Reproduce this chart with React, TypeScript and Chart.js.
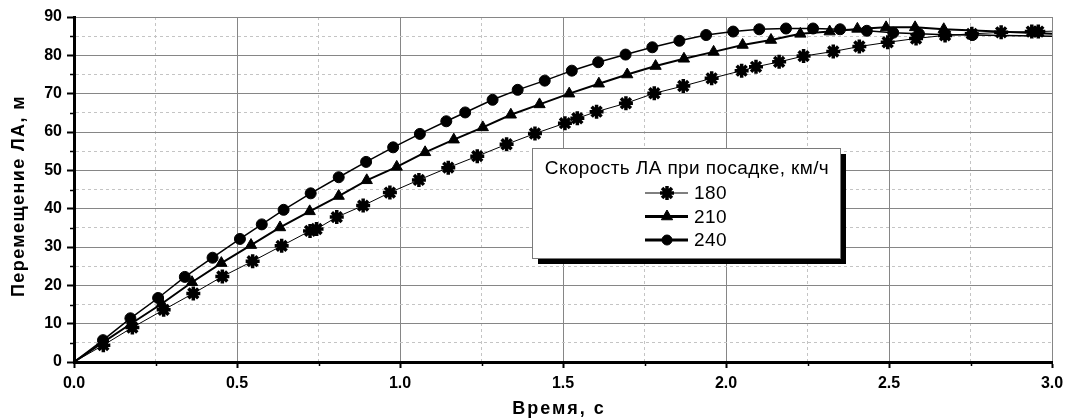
import React, { useEffect, useRef } from 'react';
import { Chart, registerables } from 'chart.js';
import { drawPoint } from 'chart.js/helpers';

Chart.register(...registerables);

const FONT = '"Liberation Sans", Arial, Helvetica, sans-serif';

const legendTitle = 'Скорость ЛА при посадке, км/ч';
const xTitle = 'Время, с';
const yTitle = 'Перемещение ЛА, м';
const seriesLabels = ['180', '210', '240'];

// Time (s) and displacement (m) for landing speed 180 km/h
const t180 = [0, 0.090, 0.179, 0.275, 0.366, 0.455, 0.548, 0.637, 0.724, 0.744, 0.806, 0.887, 0.969, 1.058, 1.148, 1.237, 1.327, 1.414, 1.506, 1.544, 1.603, 1.693, 1.780, 1.869, 1.956, 2.048, 2.092, 2.163, 2.238, 2.329, 2.409, 2.496, 2.583, 2.672, 2.754, 2.844, 2.938, 2.958, 3.0];
const d180 = [0, 4.4, 9.0, 13.6, 17.9, 22.3, 26.3, 30.3, 34.2, 34.7, 37.8, 40.8, 44.2, 47.5, 50.7, 53.7, 56.8, 59.6, 62.3, 63.6, 65.3, 67.5, 70.1, 72.0, 74.0, 76.0, 77.0, 78.3, 79.8, 81.0, 82.3, 83.4, 84.4, 85.2, 85.6, 86.0, 86.2, 86.2, 86.3];

// 210 km/h
const t210 = [0, 0.089, 0.177, 0.269, 0.362, 0.452, 0.543, 0.632, 0.723, 0.812, 0.898, 0.990, 1.077, 1.165, 1.254, 1.340, 1.428, 1.519, 1.610, 1.697, 1.784, 1.871, 1.962, 2.051, 2.138, 2.228, 2.318, 2.403, 2.491, 2.580, 2.668, 3.0];
const d210 = [0, 5.1, 10.1, 15.2, 20.8, 25.8, 30.5, 35.1, 39.3, 43.3, 47.4, 50.9, 54.7, 58.0, 61.2, 64.5, 67.2, 70.0, 72.6, 75.0, 77.2, 79.1, 80.9, 82.7, 84.0, 85.6, 86.2, 86.9, 87.3, 87.3, 86.8, 85.6];

// 240 km/h
const t240 = [0, 0.089, 0.173, 0.258, 0.340, 0.425, 0.509, 0.576, 0.643, 0.726, 0.812, 0.896, 0.979, 1.061, 1.142, 1.200, 1.284, 1.361, 1.444, 1.527, 1.608, 1.692, 1.774, 1.857, 1.939, 2.022, 2.102, 2.184, 2.267, 2.350, 2.432, 2.513, 2.592, 2.672, 2.756, 3.0];
const d240 = [0, 5.7, 11.4, 16.7, 22.2, 27.2, 32.1, 35.9, 39.7, 44.0, 48.2, 52.2, 56.0, 59.5, 62.8, 65.1, 68.4, 71.0, 73.4, 76.0, 78.2, 80.2, 82.1, 83.8, 85.3, 86.2, 86.8, 87.0, 87.0, 86.8, 86.4, 85.9, 85.6, 85.4, 85.3, 85.0];

const xMin = 0, xMax = 3, xStep = 0.25;
const yMin = 0, yMax = 90, yStep = 5;

const toPoints = (t: number[], d: number[]) => t.map((x, i) => ({ x, y: d[i] }));

const isMajorX = (v: number) => Math.abs(v * 2 - Math.round(v * 2)) < 1e-6;
const isMajorY = (v: number) => Math.abs(v / 10 - Math.round(v / 10)) < 1e-6;

const markerRadius = (n: number, r: number) => (c: any) =>
  c.dataIndex === 0 || c.dataIndex === n - 1 ? 0 : r;

const minorTicksPlugin = {
  id: 'minorTicks',
  afterDraw(chart: any) {
    const { ctx, chartArea } = chart;
    const xs = chart.scales.x;
    const ys = chart.scales.y;
    ctx.save();
    ctx.strokeStyle = '#000';
    ctx.lineWidth = 1.5;
    ctx.beginPath();
    for (let v = xMin; v <= xMax + 1e-9; v += xStep) {
      if (isMajorX(v)) continue;
      const px = Math.round(xs.getPixelForValue(v)) + 0.5;
      ctx.moveTo(px, chartArea.bottom);
      ctx.lineTo(px, chartArea.bottom + 4);
    }
    for (let v = yMin; v <= yMax + 1e-9; v += yStep) {
      if (isMajorY(v)) continue;
      const py = Math.round(ys.getPixelForValue(v)) + 0.5;
      ctx.moveTo(chartArea.left, py);
      ctx.lineTo(chartArea.left - 4, py);
    }
    ctx.stroke();
    ctx.restore();
  },
};

const axisTitlesPlugin = {
  id: 'axisTitles',
  afterDraw(chart: any) {
    const { ctx, chartArea } = chart;
    ctx.save();
    ctx.fillStyle = '#000';
    ctx.font = `bold 18px ${FONT}`;
    ctx.textAlign = 'center';
    ctx.textBaseline = 'middle';
    (ctx as any).letterSpacing = '2px';
    ctx.fillText(xTitle, (chartArea.left + chartArea.right) / 2 - 4, 409);
    (ctx as any).letterSpacing = '1.4px';
    ctx.translate(19, 196);
    ctx.rotate(-Math.PI / 2);
    ctx.fillText(yTitle, 0, 0);
    ctx.restore();
  },
};

const boxLegendPlugin = {
  id: 'boxLegend',
  afterDatasetsDraw(chart: any) {
    const { ctx } = chart;
    const bx = 532, by = 148, bw = 308, bh = 110;
    ctx.save();
    ctx.fillStyle = '#000';
    ctx.fillRect(bx + 6, by + 6, bw, bh);
    ctx.fillStyle = '#fff';
    ctx.fillRect(bx, by, bw, bh);
    ctx.strokeStyle = '#7a7a7a';
    ctx.lineWidth = 1;
    ctx.strokeRect(bx + 0.5, by + 0.5, bw, bh);
    ctx.fillStyle = '#000';
    ctx.font = `19px ${FONT}`;
    (ctx as any).letterSpacing = '0.4px';
    ctx.textAlign = 'center';
    ctx.textBaseline = 'middle';
    ctx.fillText(legendTitle, bx + bw / 2 + 1, by + 21);
    chart.data.datasets.forEach((ds: any, i: number) => {
      const y = by + 45 + i * 23.5;
      ctx.strokeStyle = '#000';
      ctx.lineWidth = i === 0 ? 1 : 3;
      ctx.beginPath();
      ctx.moveTo(645, y);
      ctx.lineTo(688, y);
      ctx.stroke();
      ctx.fillStyle = '#000';
      ctx.lineWidth = ds.legendBorder;
      drawPoint(ctx, { pointStyle: ds.pointStyle, radius: ds.legendRadius, borderWidth: ds.legendBorder, rotation: 0 }, 667, y);
      ctx.fillStyle = '#000';
      ctx.font = `19px ${FONT}`;
      ctx.textAlign = 'left';
      ctx.textBaseline = 'middle';
      ctx.fillText(ds.label, 694, y + 1);
    });
    ctx.restore();
  },
};

const tickFont = { family: FONT, size: 16, weight: 'bold' as const };

export default function App() {
  const ref = useRef<HTMLCanvasElement | null>(null);

  useEffect(() => {
    if (!ref.current) return;
    const chart = new Chart(ref.current, {
      type: 'line',
      data: {
        datasets: [
          {
            label: seriesLabels[0],
            data: toPoints(t180, d180),
            borderColor: '#000',
            backgroundColor: '#000',
            borderWidth: 1,
            pointStyle: 'star',
            pointRadius: markerRadius(t180.length, 7),
            pointBorderWidth: 3.5,
            pointBorderColor: '#000',
            pointBackgroundColor: '#000',
            tension: 0,
            legendRadius: 7,
            legendBorder: 3.5,
          } as any,
          {
            label: seriesLabels[1],
            data: toPoints(t210, d210),
            borderColor: '#000',
            backgroundColor: '#000',
            borderWidth: 2,
            pointStyle: 'triangle',
            pointRadius: markerRadius(t210.length, 6.5),
            pointBorderWidth: 1,
            pointBorderColor: '#000',
            pointBackgroundColor: '#000',
            tension: 0,
            legendRadius: 6.5,
            legendBorder: 1,
          } as any,
          {
            label: seriesLabels[2],
            data: toPoints(t240, d240),
            borderColor: '#000',
            backgroundColor: '#000',
            borderWidth: 1.5,
            pointStyle: 'circle',
            pointRadius: markerRadius(t240.length, 5.5),
            pointBorderWidth: 1,
            pointBorderColor: '#000',
            pointBackgroundColor: '#000',
            tension: 0,
            legendRadius: 5,
            legendBorder: 1,
          } as any,
        ],
      },
      options: {
        animation: false,
        responsive: false,
        devicePixelRatio: 1,
        layout: { padding: { left: 0, top: 17, right: 13, bottom: 0 } },
        plugins: {
          legend: { display: false },
          tooltip: { enabled: false },
        },
        scales: {
          x: {
            type: 'linear',
            min: xMin,
            max: xMax,
            ticks: {
              stepSize: xStep,
              autoSkip: false,
              maxRotation: 0,
              color: '#000',
              font: tickFont,
              padding: 6,
              callback: (v: any) => (isMajorX(Number(v)) ? Number(v).toFixed(1) : ''),
            },
            grid: {
              color: (c: any) => (c.tick && isMajorX(c.tick.value) ? '#868686' : '#c4c4c4'),
              lineWidth: 1,
              tickLength: 6,
              tickWidth: 2,
              tickColor: (c: any) => (c.tick && isMajorX(c.tick.value) ? '#000' : 'rgba(0,0,0,0)'),
            },
            border: {
              display: true,
              color: '#000',
              width: 3,
              dash: (c: any) => (c.tick && !isMajorX(c.tick.value) ? [3, 3] : []),
            },
            title: { display: false },
            afterFit: (s: any) => {
              s.height = 58;
              s.paddingLeft = 0;
              s.paddingRight = 0;
            },
          },
          y: {
            type: 'linear',
            min: yMin,
            max: yMax,
            ticks: {
              stepSize: yStep,
              autoSkip: false,
              color: '#000',
              font: tickFont,
              padding: 5,
              callback: (v: any) => (isMajorY(Number(v)) ? String(v) : ''),
            },
            grid: {
              color: (c: any) => (c.tick && isMajorY(c.tick.value) ? '#868686' : '#c4c4c4'),
              lineWidth: 1,
              tickLength: 7,
              tickWidth: 2,
              tickColor: (c: any) => (c.tick && isMajorY(c.tick.value) ? '#000' : 'rgba(0,0,0,0)'),
            },
            border: {
              display: true,
              color: '#000',
              width: 3,
              dash: (c: any) => (c.tick && !isMajorY(c.tick.value) ? [3, 3] : []),
            },
            title: { display: false },
            afterFit: (s: any) => {
              s.width = 74;
              s.paddingTop = 0;
              s.paddingBottom = 0;
            },
          },
        },
      } as any,
      plugins: [minorTicksPlugin, axisTitlesPlugin, boxLegendPlugin],
    });
    return () => chart.destroy();
  }, []);

  return (
    <div style={{ position: 'absolute', left: 0, top: 0, width: 1065, height: 420, background: '#fff' }}>
      <canvas ref={ref} width={1065} height={420} style={{ display: 'block' }} />
    </div>
  );
}
